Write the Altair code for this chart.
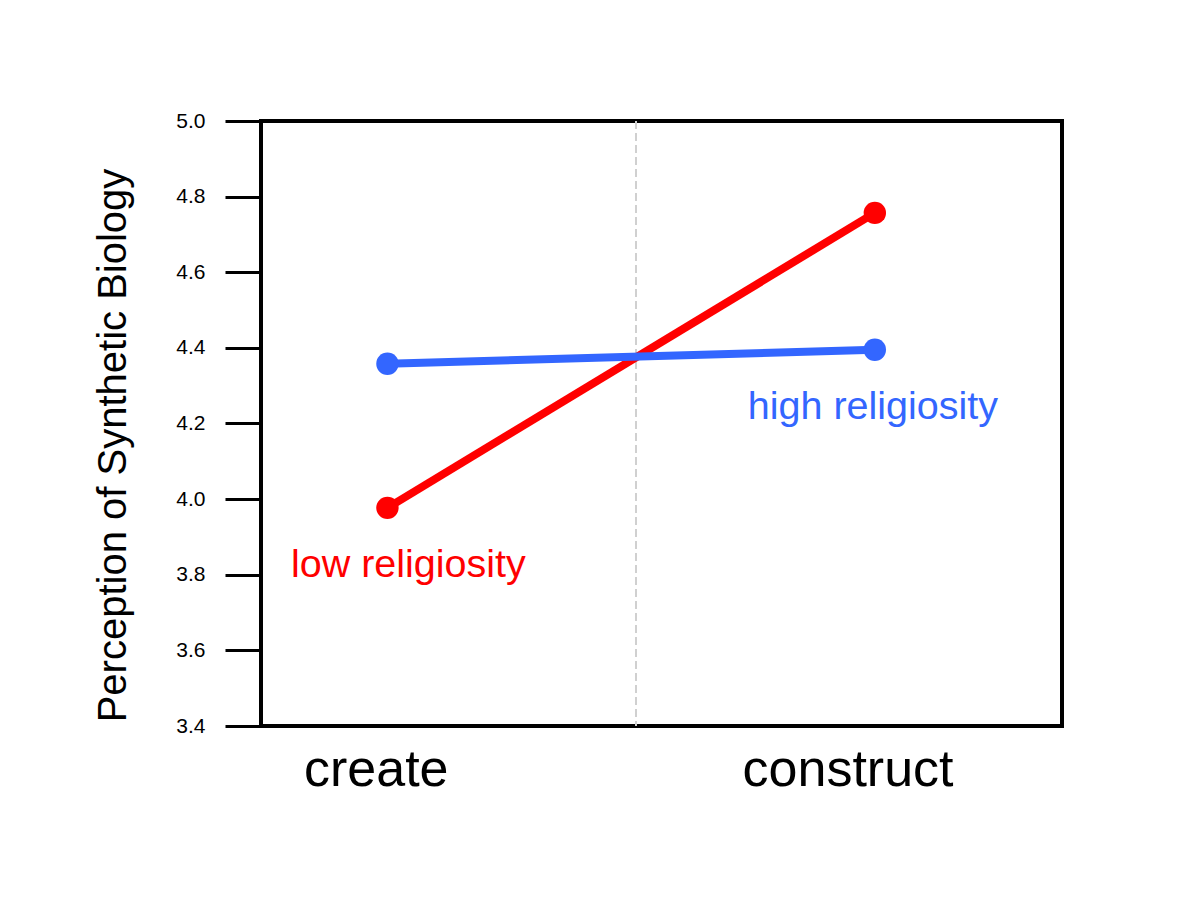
import altair as alt
import pandas as pd

conditions = ["create", "construct"]
cond_pos = [1, 2]
low_values = [3.977, 4.757]
high_values = [4.358, 4.395]
groups = ["low religiosity", "high religiosity"]
colors = ["#FF0000", "#3366FF"]

label_pos = [0.976, 1.944]
divider = [1.51]
annot_x = [1.043, 1.996]
annot_y = [3.794, 4.212]

y_ticks = [3.4, 3.6, 3.8, 4.0, 4.2, 4.4, 4.6, 4.8, 5.0]

rows = []
for g, vals in zip(groups, [low_values, high_values]):
    for c, p, v in zip(conditions, cond_pos, vals):
        rows.append({"group": g, "condition": c, "pos": p, "value": v})
df = pd.DataFrame(rows)

ann = pd.DataFrame({"group": groups, "x": annot_x, "y": annot_y})
div = pd.DataFrame({"x": divider})

FONT = "Liberation Sans, Arial, Helvetica, sans-serif"

label_expr = "datum.value < 1.5 ? '" + conditions[0] + "' : '" + conditions[1] + "'"

xscale = alt.Scale(domain=[0.7406, 2.384], nice=False, zero=False)
yscale = alt.Scale(domain=[3.4, 5.0], nice=False, zero=False)
cscale = alt.Scale(domain=groups, range=colors)

x_enc = alt.X("pos:Q", scale=xscale, axis=alt.Axis(
    values=label_pos, labelExpr=label_expr, title=None, ticks=False, domain=False,
    grid=False, labelFontSize=52, labelFont=FONT, labelColor="black", labelLimit=0,
    labelPadding=18, labelBaseline="top", labelFlush=False, labelOverlap=False))
y_enc = alt.Y("value:Q", scale=yscale, axis=alt.Axis(
    values=y_ticks, format=".1f", title="Perception of Synthetic Biology",
    titleFontSize=40, titleFont=FONT, titleFontWeight="normal", titleColor="black",
    titleAngle=-90, titleX=-148, titleY=324, titleAlign="center", titleBaseline="middle",
    domain=False, grid=False, ticks=True, tickSize=36, tickWidth=3, tickColor="black",
    labelFontSize=21, labelFont=FONT, labelColor="black", labelPadding=20))

rule = alt.Chart(div).mark_rule(color="#D0D0D0", strokeWidth=2, strokeDash=[8, 4]).encode(
    x=alt.X("x:Q", scale=xscale))

lines = alt.Chart(df).mark_line(strokeWidth=8).encode(
    x=x_enc, y=y_enc,
    color=alt.Color("group:N", scale=cscale, legend=None),
    detail="group:N")

points = alt.Chart(df).mark_circle(size=500, opacity=1).encode(
    x=alt.X("pos:Q", scale=xscale), y=alt.Y("value:Q", scale=yscale),
    color=alt.Color("group:N", scale=cscale, legend=None))

texts = alt.Chart(ann).mark_text(fontSize=39.5, font=FONT, baseline="alphabetic", align="center").encode(
    x=alt.X("x:Q", scale=xscale), y=alt.Y("y:Q", scale=yscale),
    text="group:N",
    color=alt.Color("group:N", scale=cscale, legend=None))

chart = alt.layer(rule, lines, points, texts).properties(
    width=801, height=605,
    autosize=alt.AutoSizeParams(type="none"),
    padding={"left": 253, "top": 113, "right": 120, "bottom": 160},
    background="white",
).configure_view(stroke="black", strokeWidth=4)

chart.save("out.html", embed_options={"renderer": "svg", "actions": False})
